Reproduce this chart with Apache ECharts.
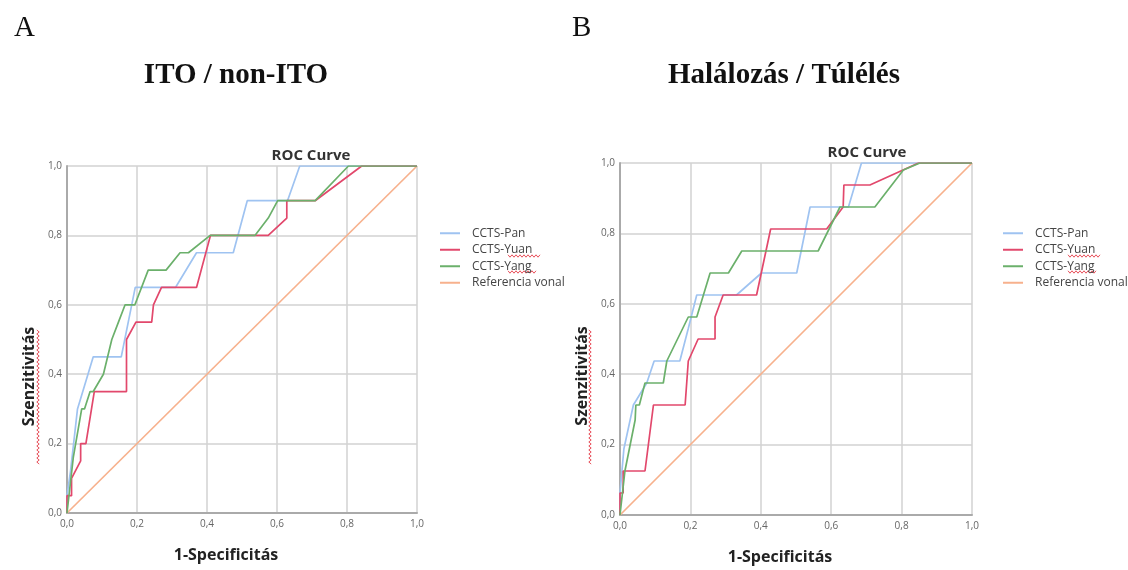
<!DOCTYPE html>
<html>
<head>
<meta charset="utf-8">
<script src="https://cdn.jsdelivr.net/npm/echarts@6/dist/echarts.min.js"></script>
<style>
  html, body { margin: 0; padding: 0; background: #fff; }
  #main { width: 1128px; height: 570px; }
</style>
</head>
<body>
<div id="main"></div>
<script>
// ROC görbék: [1-specificitás, szenzitivitás]
var seriesNames = ['CCTS-Pan', 'CCTS-Yuan', 'CCTS-Yang', 'Referencia vonal'];
var tickValues = [0, 0.2, 0.4, 0.6, 0.8, 1.0];

// A - ITO / non-ITO
var panA = [[0,0],[0,0.05],[0.01,0.12],[0.03,0.30],[0.075,0.45],[0.155,0.45],[0.195,0.65],[0.31,0.65],[0.37,0.75],[0.475,0.75],[0.515,0.90],[0.63,0.90],[0.665,1],[1,1]];
var yuanA = [[0,0],[0,0.05],[0.013,0.05],[0.013,0.10],[0.039,0.15],[0.039,0.20],[0.054,0.20],[0.078,0.35],[0.17,0.35],[0.17,0.50],[0.197,0.55],[0.242,0.55],[0.247,0.60],[0.27,0.65],[0.37,0.65],[0.41,0.80],[0.575,0.80],[0.628,0.85],[0.628,0.90],[0.709,0.90],[0.842,1],[1,1]];
var yangA = [[0,0],[0.018,0.16],[0.042,0.30],[0.05,0.30],[0.066,0.35],[0.075,0.35],[0.104,0.40],[0.128,0.50],[0.147,0.55],[0.166,0.60],[0.194,0.60],[0.232,0.70],[0.283,0.70],[0.323,0.75],[0.347,0.75],[0.409,0.80],[0.537,0.80],[0.575,0.85],[0.602,0.90],[0.709,0.90],[0.804,1],[1,1]];

// B - Halálozás / Túlélés
var panB = [[0,0],[0,0.0625],[0.011,0.1875],[0.038,0.3125],[0.076,0.375],[0.097,0.4375],[0.17,0.4375],[0.194,0.53],[0.218,0.625],[0.331,0.625],[0.402,0.6875],[0.502,0.6875],[0.54,0.875],[0.649,0.875],[0.686,1],[1,1]];
var yuanB = [[0,0],[0,0.0625],[0.009,0.0625],[0.009,0.125],[0.071,0.125],[0.095,0.3125],[0.185,0.3125],[0.194,0.4375],[0.222,0.5],[0.27,0.5],[0.27,0.5625],[0.293,0.625],[0.388,0.625],[0.428,0.8125],[0.587,0.8125],[0.634,0.875],[0.636,0.9375],[0.71,0.9375],[0.848,1],[1,1]];
var yangB = [[0,0],[0.014,0.125],[0.043,0.27],[0.045,0.3125],[0.055,0.3125],[0.071,0.375],[0.123,0.375],[0.133,0.4375],[0.194,0.5625],[0.218,0.5625],[0.256,0.6875],[0.308,0.6875],[0.346,0.75],[0.563,0.75],[0.625,0.875],[0.724,0.875],[0.805,0.98],[0.852,1],[1,1]];

var refLine = [[0,0],[1,1]];

var colors = ['#9fc3f1', '#e2486c', '#6bb06b', '#f7b18d'];
var sans = "'Open Sans', 'Noto Sans', sans-serif";
var serif = "'Liberation Serif', 'DejaVu Serif', serif";

function fmt(v) {
    return v.toFixed(1).replace('.', ',');
}

function xAxisFor(idx) {
    return {
        gridIndex: idx,
        type: 'value',
        min: 0, max: 1, interval: 0.2,
        name: '1-Specificitás',
        nameLocation: 'middle',
        nameGap: 34,
        nameTextStyle: { fontFamily: sans, fontWeight: 'bold', fontSize: 16, color: '#222', padding: [0, 32, 0, 0] },
        axisLine: { lineStyle: { color: '#aaa', width: 2 } },
        axisTick: { show: false },
        axisLabel: { formatter: fmt, fontFamily: sans, fontSize: 10, color: '#666', margin: 6 },
        splitLine: { lineStyle: { color: '#d2d2d2', width: 1.5 } }
    };
}

function yAxisFor(idx) {
    return {
        gridIndex: idx,
        type: 'value',
        min: 0, max: 1, interval: 0.2,
        name: 'Szenzitivitás',
        nameLocation: 'middle',
        nameGap: 30,
        nameTextStyle: { fontFamily: sans, fontWeight: 'bold', fontSize: 16, color: '#222', padding: [0, 74, 0, 0] },
        axisLine: { show: true, lineStyle: { color: '#aaa', width: 2 } },
        axisTick: { show: false },
        axisLabel: { formatter: fmt, fontFamily: sans, fontSize: 10, color: '#666', margin: 5 },
        splitLine: { lineStyle: { color: '#d2d2d2', width: 1.5 } }
    };
}

function lineSeries(name, data, idx, color) {
    return {
        name: name,
        type: 'line',
        xAxisIndex: idx,
        yAxisIndex: idx,
        data: data,
        symbol: 'none',
        animation: false,
        lineStyle: { color: color, width: 1.7 },
        itemStyle: { color: color }
    };
}

function legendFor(left) {
    return {
        orient: 'vertical',
        left: left,
        top: 220,
        data: seriesNames,
        icon: 'rect',
        itemWidth: 20,
        itemHeight: 2,
        itemGap: 0,
        selectedMode: false,
        textStyle: { fontFamily: sans, fontSize: 12, color: '#444', lineHeight: 16.5, padding: [0, 0, 0, 7] }
    };
}

// helyesírás-ellenőrző hullámvonal (díszítés)
function squiggle(x1, y1, len, vertical) {
    var pts = [];
    for (var i = 0; i <= len; i += 2) {
        var off = (i / 2) % 2 === 0 ? -1.2 : 1.2;
        pts.push(vertical ? [x1 + off, y1 + i] : [x1 + i, y1 + off]);
    }
    return {
        type: 'polyline',
        silent: true,
        shape: { points: pts },
        style: { stroke: '#e8505b', lineWidth: 1, fill: null }
    };
}

var myChart = echarts.init(document.getElementById('main'));
var option = {
    backgroundColor: '#fff',
    animation: false,
    title: [
        { text: 'A', left: 9, top: 9, textStyle: { fontFamily: serif, fontWeight: 'normal', fontSize: 29, color: '#111' } },
        { text: 'B', left: 567, top: 9, textStyle: { fontFamily: serif, fontWeight: 'normal', fontSize: 29, color: '#111' } },
        { text: 'ITO / non-ITO', left: 231, top: 56, textAlign: 'center', textStyle: { fontFamily: serif, fontWeight: 'bold', fontSize: 29, color: '#111' } },
        { text: 'Halálozás / Túlélés', left: 779, top: 56, textAlign: 'center', textStyle: { fontFamily: serif, fontWeight: 'bold', fontSize: 29, color: '#111' } },
        { text: 'ROC Curve', left: 306, top: 143, textAlign: 'center', textStyle: { fontFamily: sans, fontWeight: 'bold', fontSize: 15, color: '#333' } },
        { text: 'ROC Curve', left: 862, top: 140, textAlign: 'center', textStyle: { fontFamily: sans, fontWeight: 'bold', fontSize: 15, color: '#333' } }
    ],
    legend: [legendFor(435), legendFor(998)],
    grid: [
        { left: 67, top: 166, width: 350, height: 347 },
        { left: 620, top: 163, width: 352, height: 352 }
    ],
    xAxis: [xAxisFor(0), xAxisFor(1)],
    yAxis: [yAxisFor(0), yAxisFor(1)],
    series: [
        lineSeries(seriesNames[3], refLine, 0, colors[3]),
        lineSeries(seriesNames[0], panA, 0, colors[0]),
        lineSeries(seriesNames[1], yuanA, 0, colors[1]),
        lineSeries(seriesNames[2], yangA, 0, colors[2]),
        lineSeries(seriesNames[3], refLine, 1, colors[3]),
        lineSeries(seriesNames[0], panB, 1, colors[0]),
        lineSeries(seriesNames[1], yuanB, 1, colors[1]),
        lineSeries(seriesNames[2], yangB, 1, colors[2])
    ],
    graphic: [
        squiggle(38, 330, 134, true),
        squiggle(590, 330, 134, true),
        squiggle(508, 256, 32, false),
        squiggle(508, 272, 28, false),
        squiggle(1068, 256, 32, false),
        squiggle(1068, 272, 28, false)
    ]
};
myChart.setOption(option);
</script>
</body>
</html>
